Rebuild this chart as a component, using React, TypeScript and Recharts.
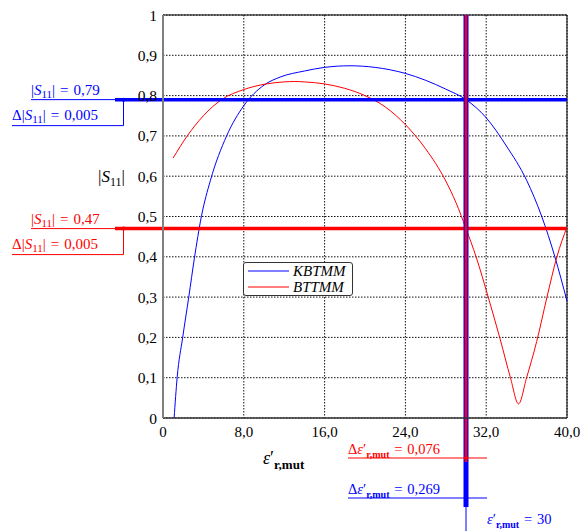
import { LineChart, Line, XAxis, YAxis, CartesianGrid, ReferenceLine } from "recharts";

// |S11| versus epsilon'_r,mut for the two models
const kbtmmEps = [1.1, 1.4, 1.95, 2.55, 3.1, 3.8, 4.7, 6.3, 8, 10, 11.6, 14, 16, 18.5, 21, 24, 26, 28, 30, 32, 34, 36, 37.5, 38.8, 40];
const kbtmmS11 = [0, 0.1, 0.2, 0.3, 0.395, 0.5, 0.59, 0.7, 0.775, 0.826, 0.846, 0.861, 0.87, 0.874, 0.87, 0.855, 0.838, 0.816, 0.79, 0.745, 0.675, 0.59, 0.5, 0.4, 0.29];

const bttmmEps = [1, 2.4, 4, 5.8, 8, 10, 12, 13, 14, 16, 18, 20, 22, 24, 26, 28, 29, 30, 31, 32.2, 33.4, 34.4, 35.2, 36, 37, 38, 39, 40];
const bttmmS11 = [0.645, 0.7, 0.75, 0.79, 0.815, 0.828, 0.834, 0.835, 0.834, 0.829, 0.818, 0.8, 0.772, 0.728, 0.668, 0.588, 0.535, 0.47, 0.4, 0.3, 0.194, 0.1, 0.035, 0.1, 0.19, 0.298, 0.4, 0.474];

const xTicks = [0, 8, 16, 24, 32, 40];
const yTicks = [0, 0.1, 0.2, 0.3, 0.4, 0.5, 0.6, 0.7, 0.8, 0.9, 1];

// operating point and resolution markers
const epsOperating = 30;
const s11Levels = [0.79, 0.47];
const s11Deltas = [0.005, 0.005];
const epsDeltas = [0.269, 0.076];

const BLUE = "#0000ff";
const RED = "#ff0000";
const FONT = "'Liberation Serif', 'Times New Roman', serif";
const EQ = "\u2004=\u2004";

const series = [
  { name: "KBTMM", color: BLUE, data: kbtmmEps.map((eps, i) => ({ eps, s11: kbtmmS11[i] })) },
  { name: "BTTMM", color: RED, data: bttmmEps.map((eps, i) => ({ eps, s11: bttmmS11[i] })) },
];

const comma = (v: number, digits: number) => v.toFixed(digits).replace(".", ",");

function S11Text({ prefix = "", value, size = 15 }: { prefix?: string; value?: string; size?: number }) {
  const sub = Math.round(size * 0.7);
  return (
    <>
      <tspan>{prefix}|</tspan>
      <tspan fontStyle="italic">S</tspan>
      <tspan fontSize={sub} dy={size * 0.2}>11</tspan>
      <tspan dy={-size * 0.2}>{"|" + (value !== undefined ? EQ + value : "")}</tspan>
    </>
  );
}

function EpsText({ prefix = "", value, size = 14.5 }: { prefix?: string; value?: string; size?: number }) {
  const sub = Math.round(size * 0.7);
  return (
    <>
      <tspan>{prefix}</tspan>
      <tspan fontStyle="italic">ε</tspan>
      <tspan>′</tspan>
      <tspan fontSize={sub} fontWeight="bold" dy={size * 0.3}>r,mut</tspan>
      {value !== undefined && <tspan dy={-size * 0.3}>{EQ + value}</tspan>}
    </>
  );
}

// horizontal marker: extension to the left of the plot plus the two callouts
function levelLabel(value: number, delta: number, color: string) {
  return (props: any) => {
    const { x, y } = props.viewBox;
    const knee = x - 39.5;
    return (
      <g fontFamily={FONT} fontSize={15} fill={color}>
        <line x1={x - 48} x2={x} y1={y} y2={y} stroke={color} strokeWidth={3.5} />
        <line x1={x - 132} x2={x - 48} y1={y} y2={y} stroke={color} strokeWidth={1} />
        <polyline points={`${knee},${y} ${knee},${y + 26} ${x - 151},${y + 26}`} fill="none" stroke={color} strokeWidth={1} />
        <circle cx={knee} cy={y} r={2} fill={color} />
        <text x={x - 132} y={y - 5} fill={color}>
          <S11Text value={comma(value, 2)} />
        </text>
        <text x={x - 151} y={y + 20} fill={color}>
          <S11Text prefix="Δ" value={comma(delta, 3)} />
        </text>
      </g>
    );
  };
}

// vertical marker: extension below the axis plus the delta callout
function epsLabel(delta: number, color: string, width: number, row: number, showValue: boolean) {
  return (props: any) => {
    const { x, y, height } = props.viewBox;
    const bottom = y + height;
    const rowY = bottom + row;
    return (
      <g fontFamily={FONT} fontSize={14.5} fill={color}>
        {showValue && <line x1={x} x2={x} y1={bottom} y2={bottom + 120} stroke={color} strokeWidth={1} />}
        <line x1={x} x2={x} y1={bottom} y2={rowY + (showValue ? 9 : 4)} stroke={color} strokeWidth={width} />
        <line x1={x - 118} x2={x + 21} y1={rowY} y2={rowY} stroke={color} strokeWidth={1} />
        <circle cx={x} cy={rowY} r={2} fill={color} />
        <text x={x - 118} y={rowY - 4} fill={color}>
          <EpsText prefix="Δ" value={comma(delta, 3)} />
        </text>
        {showValue && (
          <text x={x + 21} y={rowY + 26} fill={color}>
            <EpsText value={String(epsOperating)} />
          </text>
        )}
      </g>
    );
  };
}

export default function App() {
  return (
    <div style={{ position: "absolute", left: 0, top: 0, width: 581, height: 531, background: "#fff" }}>
      <LineChart width={581} height={531} margin={{ top: 15, right: 14, bottom: 83, left: 123 }}>
        <CartesianGrid stroke="#111" strokeDasharray="1.5 1.5" />
        <XAxis
          type="number"
          dataKey="eps"
          domain={[0, 40]}
          ticks={xTicks}
          allowDataOverflow
          height={30}
          tickSize={0}
          tickMargin={8}
          tickLine={false}
          axisLine={{ stroke: "#333", strokeWidth: 1.3 }}
          tick={{ fill: "#000", fontSize: 15, fontFamily: FONT }}
          tickFormatter={(v: number) => (v === 0 ? "0" : comma(v, 1))}
          label={(p: any) => (
            <text x={p.viewBox.x + 100} y={p.viewBox.y + 46} fontFamily={FONT} fontSize={18} fill="#000">
              <EpsText size={18} />
            </text>
          )}
        />
        <YAxis
          type="number"
          domain={[0, 1]}
          ticks={yTicks}
          width={40}
          tickSize={0}
          tickMargin={6}
          tickLine={false}
          axisLine={{ stroke: "#808080", strokeWidth: 2 }}
          tick={{ fill: "#000", fontSize: 15.5, fontFamily: FONT }}
          tickFormatter={(v: number) => (v === 0 || v === 1 ? String(v) : comma(v, 1))}
          label={(p: any) => (
            <text x={p.viewBox.x - 25} y={p.viewBox.y + p.viewBox.height * 0.4 + 6} fontFamily={FONT} fontSize={17} fill="#000">
              <S11Text size={17} />
            </text>
          )}
        />
        <ReferenceLine y={1} stroke="#000" strokeWidth={1} />
        <ReferenceLine x={40} stroke="#000" strokeWidth={1} />
        {series.map((s) => (
          <Line
            key={s.name}
            data={s.data}
            dataKey="s11"
            name={s.name}
            type="monotone"
            stroke={s.color}
            strokeWidth={1}
            dot={false}
            isAnimationActive={false}
          />
        ))}
        <ReferenceLine
          y={s11Levels[0]}
          stroke={BLUE}
          strokeWidth={3.5}
          ifOverflow="visible"
          label={levelLabel(s11Levels[0], s11Deltas[0], BLUE)}
        />
        <ReferenceLine
          y={s11Levels[1]}
          stroke={RED}
          strokeWidth={3.5}
          ifOverflow="visible"
          label={levelLabel(s11Levels[1], s11Deltas[1], RED)}
        />
        <ReferenceLine
          x={epsOperating}
          stroke={BLUE}
          strokeWidth={5}
          ifOverflow="visible"
          label={epsLabel(epsDeltas[0], BLUE, 5, 80, true)}
        />
        <ReferenceLine
          x={epsOperating}
          stroke={RED}
          strokeWidth={2.5}
          ifOverflow="visible"
          label={epsLabel(epsDeltas[1], RED, 2.5, 40, false)}
        />
      </LineChart>
      <div
        style={{
          position: "absolute",
          left: 243,
          top: 262,
          width: 104,
          height: 32,
          paddingLeft: 4,
          border: "1px solid #333",
          borderRadius: 3,
          background: "#fff",
          fontFamily: FONT,
        }}
      >
        {series.map((s) => (
          <div key={s.name} style={{ display: "flex", alignItems: "center", height: 16 }}>
            <svg width={41} height={4} style={{ marginRight: 4 }}>
              <line x1={0} x2={41} y1={2} y2={2} stroke={s.color} strokeWidth={1.2} />
            </svg>
            <span style={{ fontStyle: "italic", fontSize: 15, lineHeight: "16px" }}>{s.name}</span>
          </div>
        ))}
      </div>
    </div>
  );
}
